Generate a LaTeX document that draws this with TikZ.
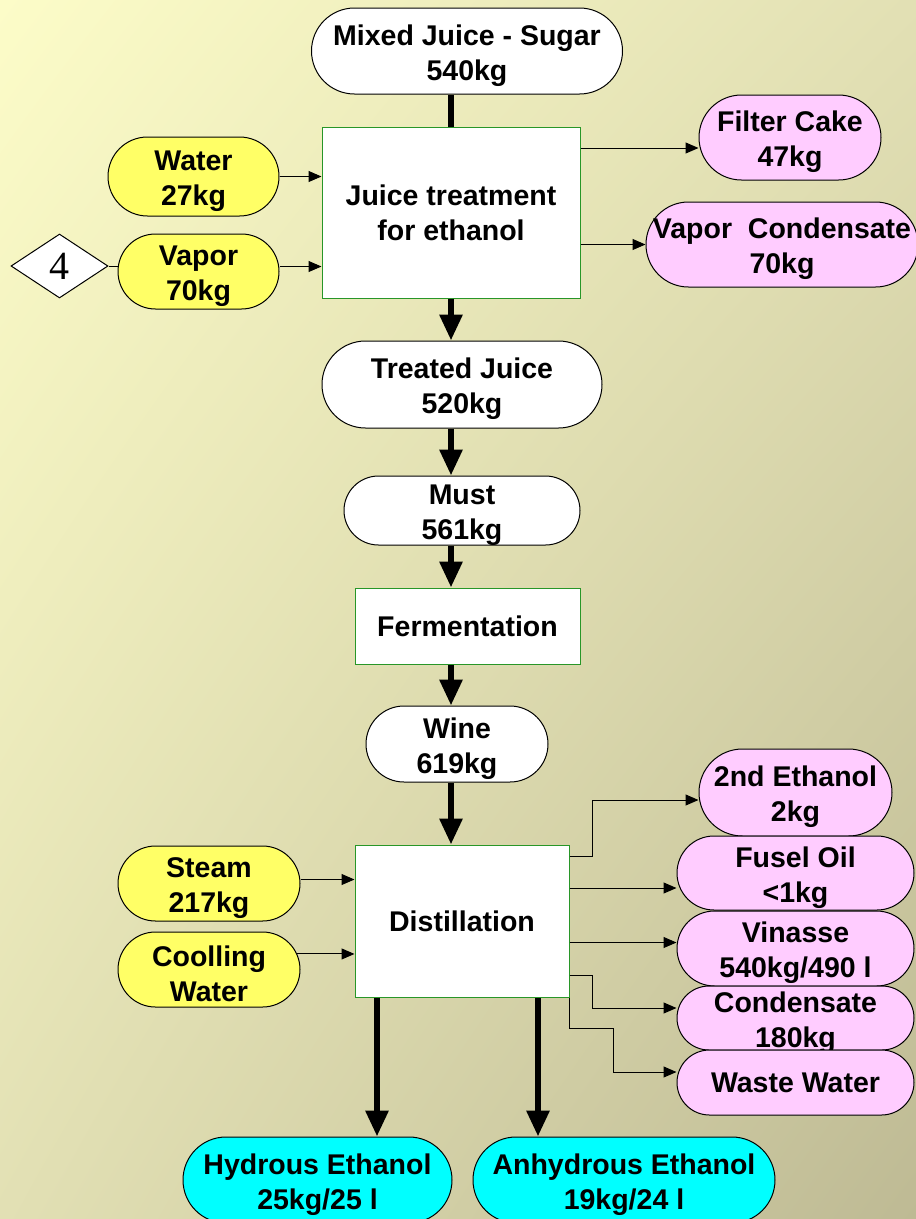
\documentclass[tikz,border=0pt]{standalone}
\usepackage{fontspec}
\setmainfont{Liberation Sans}
\newfontfamily\serifnum{Liberation Serif}
\usetikzlibrary{shapes.misc,shapes.geometric,arrows.meta,shadings}
\definecolor{ylw}{RGB}{255,255,102}
\definecolor{pnk}{RGB}{255,204,255}
\definecolor{cyn}{RGB}{0,255,255}
\definecolor{grn}{RGB}{40,150,40}
\definecolor{bgA}{RGB}{252,252,200}
\definecolor{bgB}{RGB}{190,186,148}
\definecolor{bgC}{RGB}{226,224,180}
\begin{document}
\begin{tikzpicture}[x=1pt,y=-1pt,
  lbl/.style={font=\fontsize{28.5}{35}\selectfont\bfseries, align=center, inner sep=0pt, text=black},
  lbltwo/.style={lbl, yshift=-4.5pt},
  stad/.style={rounded rectangle, draw=black, line width=1pt, inner sep=0pt},
  inp/.style={stad, fill=ylw},
  outp/.style={stad, fill=pnk},
  prod/.style={stad, fill=cyn},
  flow/.style={stad, fill=white},
  proc/.style={lbl, rectangle, draw=grn, line width=1pt, fill=white},
  thinarrow/.style={line width=1pt, -{Triangle[length=13pt,width=11pt]}},
  thickarrow/.style={line width=6pt, -{Triangle[length=26pt,width=22pt]}},
  thickline/.style={line width=6pt},
]
\useasboundingbox (0,0) rectangle (916,1219);
\shade[upper left=bgA, lower right=bgB, upper right=bgC, lower left=bgC] (0,0) rectangle (916,1219);

% main column
\node[flow, minimum width=311pt, minimum height=86pt, label={[lbltwo]center:{Mixed Juice - Sugar\\540kg}}] (mj) at (467,51) {};
\node[proc, minimum width=258pt, minimum height=171pt] (jt) at (451,212.5) {Juice treatment\\for ethanol};
\node[inp, minimum width=171pt, minimum height=79pt, label={[lbltwo]center:{Water\\27kg}}] (wa) at (193.5,176.5) {};
\node[inp, minimum width=161pt, minimum height=75pt, label={[lbltwo]center:{Vapor\\70kg}}] (va) at (198.5,271.5) {};
\node[diamond, draw=black, fill=white, line width=1pt, minimum width=97pt, minimum height=64pt, inner sep=0pt, font=\serifnum\fontsize{40}{40}\selectfont] (d4) at (59.5,266) {4};
\node[outp, minimum width=182pt, minimum height=85pt, label={[lbltwo]center:{Filter Cake\\47kg}}] (fc) at (790,137.5) {};
\node[outp, minimum width=272pt, minimum height=85pt, label={[lbltwo]center:{Vapor\ \ Condensate\\70kg}}] (vc) at (782,244.5) {};
\node[flow, minimum width=280pt, minimum height=87pt, label={[lbltwo]center:{Treated Juice\\520kg}}] (tj) at (462,384.5) {};
\node[flow, minimum width=236pt, minimum height=69pt, label={[lbltwo]center:{Must\\561kg}}] (mu) at (462,510.5) {};
\node[proc, minimum width=225pt, minimum height=76pt] (fe) at (467.5,626) {Fermentation};
\node[flow, minimum width=182pt, minimum height=76pt, label={[lbltwo]center:{Wine\\619kg}}] (wi) at (457,744) {};
\node[proc, minimum width=214pt, minimum height=152pt] (di) at (462,921) {Distillation};
\node[inp, minimum width=182pt, minimum height=75pt, label={[lbltwo]center:{Steam\\217kg}}] (st) at (209,883.5) {};
\node[inp, minimum width=182pt, minimum height=75pt, label={[lbltwo]center:{Coolling\\Water}}] (cw) at (209,969.5) {};
\node[outp, minimum width=193pt, minimum height=87pt, label={[lbltwo]center:{2nd Ethanol\\2kg}}] (e2) at (795.5,792.5) {};
\node[outp, minimum width=237pt, minimum height=74pt, label={[lbltwo]center:{Fusel Oil\\<1kg}}] (fo) at (795.5,873) {};
\node[outp, minimum width=237pt, minimum height=75pt, label={[lbltwo]center:{Vinasse\\540kg/490 l}}] (vi) at (795.5,948.5) {};
\node[outp, minimum width=237pt, minimum height=64pt, label={[lbltwo]center:{Condensate\\180kg}}] (co) at (795.5,1018) {};
\node[outp, minimum width=237pt, minimum height=65pt, label={[lbl]center:{Waste Water}}] (ww) at (795.5,1082.5) {};
\node[prod, minimum width=269pt, minimum height=86pt, label={[lbltwo]center:{Hydrous Ethanol\\25kg/25 l}}] (he) at (317.5,1180) {};
\node[prod, minimum width=302pt, minimum height=86pt, label={[lbltwo]center:{Anhydrous Ethanol\\19kg/24 l}}] (ae) at (624,1180) {};

% thick main flow
\draw[thickline] (mj.south -| jt.north) -- (jt.north);
\draw[thickarrow] (jt.south) -- (jt.south |- tj.north);
\draw[thickarrow] (tj.south -| jt.south) -- (jt.south |- mu.north);
\draw[thickarrow] (mu.south -| jt.south) -- (jt.south |- fe.north);
\draw[thickarrow] (fe.south -| jt.south) -- (jt.south |- wi.north);
\draw[thickarrow] (wi.south -| jt.south) -- (jt.south |- di.north);
\draw[thickarrow] ([xshift=-85pt]di.south) -- ([xshift=-85pt]di.south |- he.north);
\draw[thickarrow] ([xshift=76pt]di.south) -- ([xshift=76pt]di.south |- ae.north);

% thin inputs
\draw[thinarrow] (wa.east) -- (wa.east -| jt.west);
\draw[line width=1pt] (d4.east) -- (d4.east -| va.west);
\draw[thinarrow] ([yshift=5pt]va.east) -- ([yshift=5pt]va.east -| jt.west);
\draw[thinarrow] ([yshift=-10.5pt]fc.west -| jt.east) -- ([yshift=-10.5pt]fc.west);
\draw[thinarrow] (vc.west -| jt.east) -- (vc.west);
\draw[thinarrow] ([yshift=4pt]st.east) -- ([yshift=4pt]st.east -| di.west);
\draw[thinarrow] (cw.10) -- (cw.10 -| di.west);

% thin outputs of distillation
\draw[thinarrow] ([yshift=-12pt]di.north east) -- ++(23,0) |- ([yshift=-7.5pt]e2.west);
\draw[thinarrow] ([yshift=-15pt]fo.west -| di.east) -- ([yshift=-15pt]fo.west);
\draw[thinarrow] ([yshift=6pt]vi.west -| di.east) -- ([yshift=6pt]vi.west);
\draw[line width=1pt] ([yshift=22pt]di.south east) -- ++(23,0) coordinate (cbend);
\draw[thinarrow] (cbend) |- ([yshift=10pt]co.west);
\draw[line width=1pt] (di.south east) -- ++(0,31) -- ++(44,0) coordinate (wbend);
\draw[thinarrow] (wbend) |- ([yshift=10.5pt]ww.west);
\end{tikzpicture}
\end{document}
